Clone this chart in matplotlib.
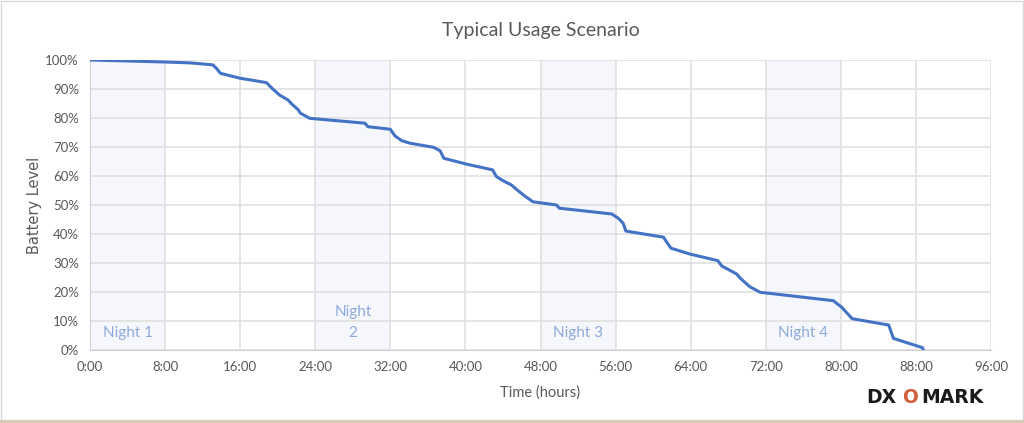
import numpy as np
from matplotlib import pyplot as plt
from matplotlib.patches import Rectangle

# battery curve (hours, percent)
hours = [0, 8.0, 10.7, 13.1, 13.5, 13.9, 16.0, 18.8, 19.4, 20.2, 21.1, 21.6, 22.2, 22.4, 23.4,
         29.3, 29.6, 32.0, 32.5, 33.2, 34.1, 36.6, 37.3, 37.7, 40.1, 42.9, 43.3, 44.0, 44.9,
         45.5, 46.4, 47.2, 49.7, 50.0, 55.6, 56.3, 56.8, 57.1, 61.1, 61.4, 61.9, 63.9, 66.9,
         67.3, 68.9, 69.3, 70.3, 71.4, 79.2, 80.1, 81.2, 85.1, 85.6, 88.7, 88.8]
level = [100, 99.3, 99.0, 98.3, 97.0, 95.4, 93.7, 92.2, 90.2, 87.9, 86.2, 84.5, 82.8, 81.7, 79.9,
         78.2, 77.0, 76.1, 73.8, 72.2, 71.3, 69.9, 68.7, 66.1, 64.1, 62.1, 59.8, 58.4, 56.9,
         55.2, 52.9, 51.1, 50.0, 48.9, 46.9, 45.4, 43.7, 41.0, 38.9, 37.4, 35.1, 33.1, 30.8,
         29.0, 26.2, 24.7, 21.8, 19.9, 17.0, 14.7, 10.8, 8.6, 4.0, 0.8, 0.0]

nights = [(0, 8), (24, 32), (48, 56), (72, 80)]
night_labels = ['Night 1', 'Night\n2', 'Night 3', 'Night 4']

xticks = list(range(0, 97, 8))
xtick_labels = ['%d:00' % h for h in xticks]
yticks = list(range(0, 101, 10))

plt.rcParams['font.family'] = ['Lato', 'DejaVu Sans']
txt = '#595959'

fig = plt.figure(figsize=(10.24, 4.23), dpi=100)
ax = fig.add_axes([0.0879, 0.1726, 0.8799, 0.6856])

for (a, b), lab in zip(nights, night_labels):
    ax.axvspan(a, b, color='#f5f7fd', zorder=0, lw=0)
    ax.text((a + b) / 2, 3.5, lab, ha='center', va='bottom', color='#8faadc',
            fontsize=11, linespacing=1.6)

ax.plot(hours, level, color='#4472c4', lw=2.2, zorder=3)

ax.set_xlim(0, 96)
ax.set_ylim(0, 100)
ax.set_xticks(xticks)
ax.set_xticklabels(xtick_labels)
ax.set_yticks(yticks)
ax.set_yticklabels(['%d%%' % v for v in yticks])
ax.grid(True, color='#e0e0e0', lw=1.2, zorder=1)
ax.set_axisbelow(True)
ax.tick_params(length=0, colors=txt, labelsize=9.5, pad=8)
for s in ['top', 'right']:
    ax.spines[s].set_visible(False)
for s in ['left', 'bottom']:
    ax.spines[s].set_color('#d0d0d0')

ax.set_xlabel('Time (hours)', color=txt, fontsize=10.5, labelpad=9)
ax.set_ylabel('Battery Level', color=txt, fontsize=10.5, labelpad=2,
              family=['DejaVu Sans'])
ax.set_title('Typical Usage Scenario', color=txt, fontsize=14, pad=17)

# logo
logo = dict(va='center', fontsize=13.5, weight='bold', family=['DejaVu Sans'])
fig.text(0.846, 0.06, 'DX', ha='left', color='#1a1a1a', **logo)
fig.text(0.8885, 0.06, 'O', ha='center', color='#d0603a', **logo)
fig.text(0.8995, 0.06, 'MARK', ha='left', color='#1a1a1a', **logo)

# frame around the picture
fig.patches.append(Rectangle((0.001, 0.006), 0.998, 0.991, transform=fig.transFigure,
                             fill=False, ec='#d8d8d8', lw=1))
fig.patches.append(Rectangle((0, 0), 1, 0.006, transform=fig.transFigure,
                             color='#d8ccb4', lw=0))

fig.savefig('out.png', dpi=100)
